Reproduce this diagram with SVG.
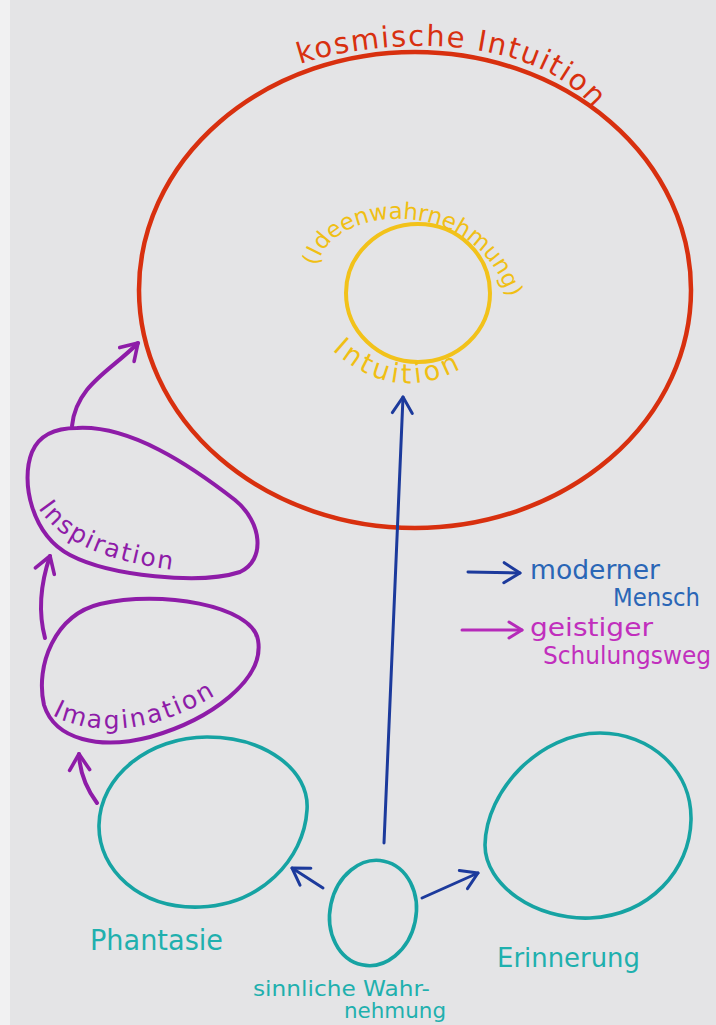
<svg xmlns="http://www.w3.org/2000/svg" width="716" height="1025" viewBox="0 0 716 1025">
  <defs>
    <style>
      .paper { fill: #e4e4e6; }
      .edge { fill: #f1f1f2; }
      .red { fill: none; stroke: #d8300f; stroke-width: 4.5; }
      .yellow { fill: none; stroke: #f2c21a; stroke-width: 4; }
      .purple { fill: none; stroke: #8e1ca8; stroke-width: 4; stroke-linecap: round; stroke-linejoin: round; }
      .teal { fill: none; stroke: #16a3a3; stroke-width: 3.6; }
      .blue { fill: none; stroke: #1c3a9c; stroke-width: 3; stroke-linecap: round; }
      .magenta { fill: none; stroke: #b52ab9; stroke-width: 3; stroke-linecap: round; }
      text { font-family: "DejaVu Sans", "Noto Sans", sans-serif; }
      .t-red { fill: #d8300f; font-size: 29px; }
      .t-yellow { fill: #f0bf14; }
      .t-purple { fill: #8e1ca8; font-size: 25px; }
      .t-teal { fill: #1fb0ae; }
      .t-blue { fill: #2a66b6; }
      .t-magenta { fill: #c12fbd; }
    </style>
    <marker id="head-blue" viewBox="-20 -14 24 28" markerWidth="24" markerHeight="28" refX="0" refY="0" orient="auto" markerUnits="userSpaceOnUse">
      <path d="M-16,-10 L0,0 L-16,10" fill="none" stroke="#1c3a9c" stroke-width="3" stroke-linecap="round" stroke-linejoin="round"/>
    </marker>
    <marker id="head-purple" viewBox="-20 -14 24 28" markerWidth="24" markerHeight="28" refX="0" refY="0" orient="auto" markerUnits="userSpaceOnUse">
      <path d="M-16,-10 L0,0 L-16,10" fill="none" stroke="#8e1ca8" stroke-width="3.6" stroke-linecap="round" stroke-linejoin="round"/>
    </marker>
    <marker id="head-magenta" viewBox="-20 -14 24 28" markerWidth="24" markerHeight="28" refX="0" refY="0" orient="auto" markerUnits="userSpaceOnUse">
      <path d="M-13,-8 L0,0 L-13,8" fill="none" stroke="#b52ab9" stroke-width="3" stroke-linecap="round" stroke-linejoin="round"/>
    </marker>

    <path id="arc-kosmisch" d="M 300 64 C 380 38, 530 30, 595 110"/>
    <path id="arc-ideen" d="M 318 266 C 326 206, 480 188, 510 304"/>
    <path id="arc-intuition" d="M 332 350 Q 398 410 472 362"/>
    <path id="arc-inspiration" d="M 38 508 C 60 540, 100 562, 188 572"/>
    <path id="arc-imagination" d="M 52 715 C 90 735, 150 738, 224 690"/>
  </defs>

  <!-- paper -->
  <rect class="paper" x="0" y="0" width="716" height="1025"/>
  <rect class="edge" x="0" y="0" width="10" height="1025"/>

  <!-- cosmic intuition -->
  <g id="kosmische-intuition">
    <ellipse class="red" cx="415" cy="290" rx="276" ry="238"/>
    <text class="t-red"><textPath href="#arc-kosmisch" textLength="312" lengthAdjust="spacing">kosmische Intuition</textPath></text>
  </g>

  <!-- intuition (perception of ideas) -->
  <g id="intuition">
    <ellipse class="yellow" cx="418" cy="293" rx="72" ry="69"/>
    <text class="t-yellow" font-size="23"><textPath href="#arc-ideen" textLength="246" lengthAdjust="spacing">(Ideenwahrnehmung)</textPath></text>
    <text class="t-yellow" font-size="27"><textPath href="#arc-intuition" textLength="140" lengthAdjust="spacing">Intuition</textPath></text>
  </g>

  <!-- inspiration -->
  <g id="inspiration">
    <path class="purple" d="M 77 428 C 130 425, 190 465, 235 500 C 262 522, 266 560, 240 572 C 200 585, 110 576, 70 555 C 32 535, 20 482, 32 452 C 40 433, 58 428, 77 428 Z"/>
    <text class="t-purple"><textPath href="#arc-inspiration" textLength="152" lengthAdjust="spacing">Inspiration</textPath></text>
  </g>

  <!-- imagination -->
  <g id="imagination">
    <path class="purple" d="M 100 604 C 160 590, 252 605, 258 640 C 265 680, 210 720, 150 737 C 100 750, 55 740, 44 705 C 35 665, 55 615, 100 604 Z"/>
    <text class="t-purple"><textPath href="#arc-imagination" textLength="172" lengthAdjust="spacing">Imagination</textPath></text>
  </g>

  <!-- fantasy -->
  <g id="phantasie">
    <path class="teal" d="M 207 737 C 265 737, 310 770, 307 810 C 304 860, 260 905, 200 907 C 140 909, 98 870, 99 825 C 100 775, 150 737, 207 737 Z"/>
    <text class="t-teal" x="90" y="950" font-size="28" textLength="133" lengthAdjust="spacingAndGlyphs">Phantasie</text>
  </g>

  <!-- memory -->
  <g id="erinnerung">
    <path class="teal" d="M 600 733 C 650 733, 692 770, 691 820 C 690 870, 650 915, 590 918 C 535 920, 485 885, 485 845 C 486 790, 540 733, 600 733 Z"/>
    <text class="t-teal" x="497" y="967" font-size="27" textLength="143" lengthAdjust="spacingAndGlyphs">Erinnerung</text>
  </g>

  <!-- sense perception -->
  <g id="sinnliche-wahrnehmung">
    <ellipse class="teal" cx="373" cy="913" rx="43" ry="53" transform="rotate(12 373 913)"/>
    <text class="t-teal" x="253" y="996" font-size="21" textLength="177" lengthAdjust="spacingAndGlyphs">sinnliche Wahr-</text>
    <text class="t-teal" x="344" y="1018" font-size="21" textLength="102" lengthAdjust="spacingAndGlyphs">nehmung</text>
  </g>

  <!-- key -->
  <g id="legende">
    <path class="blue" d="M 468 572 L 520 573" marker-end="url(#head-blue)"/>
    <text class="t-blue" x="530" y="579" font-size="26" textLength="130" lengthAdjust="spacingAndGlyphs">moderner</text>
    <text class="t-blue" x="613" y="606" font-size="25" textLength="87" lengthAdjust="spacingAndGlyphs">Mensch</text>
    <path class="magenta" d="M 462 630 L 522 630" marker-end="url(#head-magenta)"/>
    <text class="t-magenta" x="530" y="636" font-size="25" textLength="123" lengthAdjust="spacingAndGlyphs">geistiger</text>
    <text class="t-magenta" x="543" y="664" font-size="24" textLength="168" lengthAdjust="spacingAndGlyphs">Schulungsweg</text>
  </g>

  <!-- connectors -->
  <g id="connectors">
    <path class="blue" d="M 384 843 L 403 397" marker-end="url(#head-blue)"/>
    <path class="blue" d="M 323 888 L 292 868" marker-end="url(#head-blue)"/>
    <path class="blue" d="M 422 898 L 478 873" marker-end="url(#head-blue)"/>
    <path class="purple" d="M 97 803 Q 80 780 79 754" marker-end="url(#head-purple)"/>
    <path class="purple" d="M 45 638 Q 35 600 50 556" marker-end="url(#head-purple)"/>
    <path class="purple" d="M 72 426 C 76 385, 112 370, 138 343" marker-end="url(#head-purple)"/>
  </g>
</svg>
